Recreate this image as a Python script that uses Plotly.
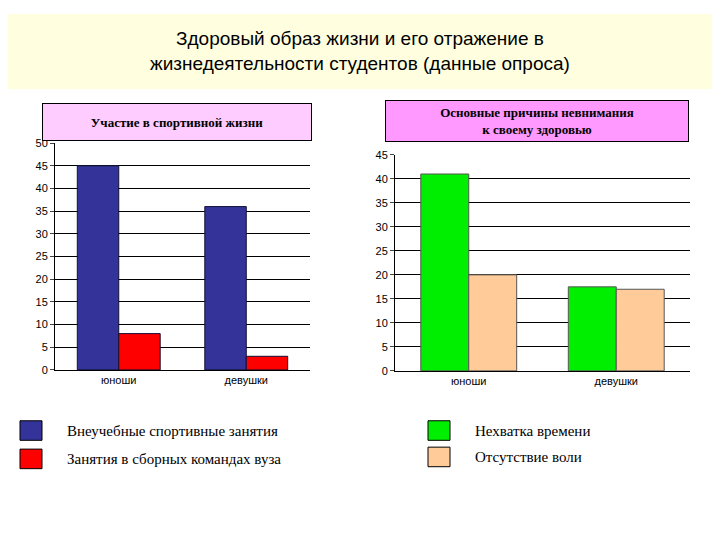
import plotly.graph_objects as go

categories = ["юноши", "девушки"]
left_series = ["Внеучебные спортивные занятия", "Занятия в сборных командах вуза"]
left_vals = [[45, 36], [8, 3]]
left_colors = ["#333399", "#FF0000"]
right_series = ["Нехватка времени", "Отсутствие воли"]
right_vals = [[41, 17.5], [20, 17]]
right_colors = ["#00EE00", "#FFCC99"]
left_ticks = list(range(0, 51, 5))
right_ticks = list(range(0, 46, 5))

fig = go.Figure()
for name, v, c in zip(left_series, left_vals, left_colors):
    fig.add_trace(go.Bar(x=categories, y=v, name=name, marker=dict(color=c, line=dict(color="#111133", width=1)),
                         xaxis="x", yaxis="y", showlegend=False))
for name, v, c in zip(right_series, right_vals, right_colors):
    fig.add_trace(go.Bar(x=categories, y=v, name=name, marker=dict(color=c, line=dict(color="#555555", width=1)),
                         xaxis="x2", yaxis="y2", showlegend=False))

W, H = 720, 540
OFF = 8
def px(x): return (x - OFF) / W
def py(y): return 1 - (y - OFF) / H

ax = dict(showgrid=False, showline=True, linecolor="black", ticks="",
          tickfont=dict(family="Liberation Sans Narrow, Liberation Sans", size=11, color="black"))
yx = dict(showgrid=True, gridcolor="black", gridwidth=1, showline=True, linecolor="black", ticks="outside",
          ticklen=4, tickfont=dict(family="Liberation Sans Narrow, Liberation Sans", size=11, color="black"), zeroline=False)

fig.update_layout(
    width=W, height=H, margin=dict(l=0, r=0, t=0, b=0),
    paper_bgcolor="white", plot_bgcolor="white", barmode="group", bargap=0.35, bargroupgap=0,
    xaxis=dict(domain=[px(55), px(310)], anchor="y", **ax),
    yaxis=dict(domain=[py(372), py(140)], range=[0, 50], tickvals=left_ticks, anchor="x", **yx),
    xaxis2=dict(domain=[px(395), px(690)], anchor="y2", **ax),
    yaxis2=dict(domain=[py(373), py(152)], range=[0, 45], tickvals=right_ticks, anchor="x2", **yx),
)

shapes = [dict(type="rect", xref="paper", yref="paper", x0=0, x1=1, y0=py(85), y1=1,
               fillcolor="#FFFFE0", line=dict(width=0), layer="below")]
annots = [
    dict(text="Здоровый образ жизни и его отражение в<br>жизнедеятельности студентов (данные опроса)",
         x=px(360), y=py(46), xref="paper", yref="paper", xanchor="center", yanchor="middle", showarrow=False,
         font=dict(family="Liberation Sans", size=19, color="black")),
    dict(text="<b>Участие в спортивной жизни</b>", x=px(177), y=py(118), xref="paper", yref="paper",
         xanchor="center", yanchor="middle",
         showarrow=False, bgcolor="#FFCCFF", bordercolor="black", borderwidth=1, width=266, height=34,
         font=dict(family="Liberation Serif", size=13, color="black")),
    dict(text="<b>Основные причины невнимания<br>к своему здоровью</b>", x=px(537), y=py(117), xref="paper", yref="paper",
         xanchor="center", yanchor="middle",
         showarrow=False, bgcolor="#FF99FF", bordercolor="black", borderwidth=1, width=300, height=38,
         font=dict(family="Liberation Serif", size=13, color="black")),
]
legend_items = [(20, 434, left_colors[0], left_series[0]), (20, 463, left_colors[1], left_series[1]),
                (428, 434, right_colors[0], right_series[0]), (428, 461, right_colors[1], right_series[1])]
for x, y, c, t in legend_items:
    shapes.append(dict(type="rect", xref="paper", yref="paper", x0=px(x), x1=px(x + 22), y0=py(y + 10), y1=py(y - 10),
                       fillcolor=c, line=dict(color="black", width=1)))
    annots.append(dict(text=t, x=px(x + 45), y=py(y), xref="paper", yref="paper", xanchor="left", yanchor="middle",
                       showarrow=False, font=dict(family="Liberation Serif", size=15, color="black")))
fig.update_layout(shapes=shapes, annotations=annots)
fig.write_html("out.html")
